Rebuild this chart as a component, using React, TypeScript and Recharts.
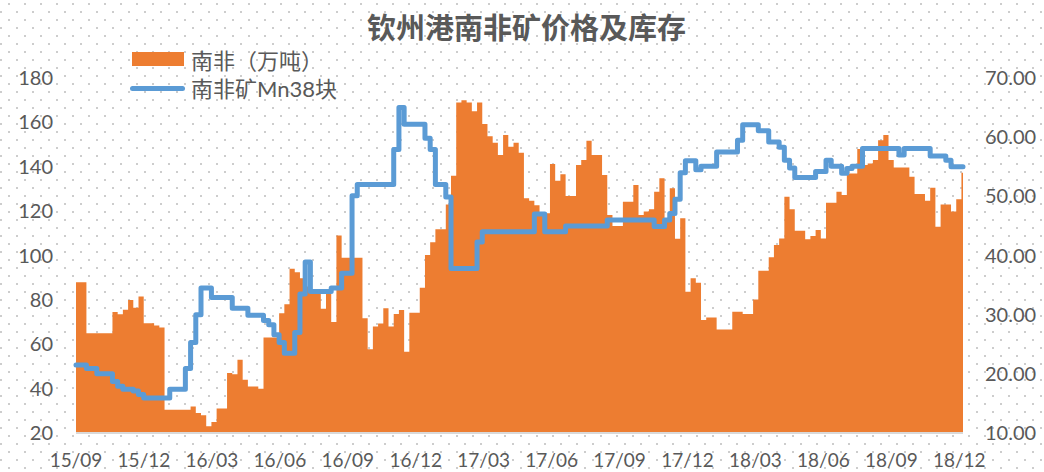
import { Area, ComposedChart, Line, XAxis, YAxis } from 'recharts';

const TITLE = '钦州港南非矿价格及库存';
const STOCK_NAME = '南非（万吨）';
const PRICE_NAME = '南非矿Mn38块';

const monthLabels = [
  '15/09', '15/12', '16/03', '16/06', '16/09', '16/12', '17/03',
  '17/06', '17/09', '17/12', '18/03', '18/06', '18/09', '18/12',
];

// weeks counted from 2015-09-01; each value holds until the next entry
const stockWeeks = [
  0, 2, 7, 8, 9, 10, 11, 12, 13, 15, 16, 17, 22, 23, 24, 25, 26, 27, 29, 30,
  31, 32, 33, 35, 36, 39, 40, 41, 42, 43, 44, 45, 47, 48, 49, 50, 51, 55, 56, 57,
  58, 59, 60, 61, 62, 63, 64, 66, 67, 68, 69, 71, 72, 73, 74, 75, 76, 77, 78, 79,
  80, 81, 82, 83, 84, 85, 86, 87, 88, 89, 91, 92, 93, 94, 96, 97, 98, 99, 101, 102,
  103, 105, 107, 108, 109, 110, 111, 112, 113, 114, 115, 116, 117, 118, 119, 120, 121, 123, 126, 128,
  130, 131, 133, 134, 135, 136, 137, 138, 140, 141, 142, 143, 144, 146, 147, 148, 150, 151, 152, 153,
  154, 155, 156, 157, 160, 161, 163, 164, 165, 166, 168, 169, 170, 170.3,
];
const stockValues = [
  88, 65, 74.5, 73.5, 75.5, 80, 76.5, 81.5, 69.5, 68.5, 67.5, 30.5, 32, 29, 28, 23, 25, 31, 47, 46.5,
  53, 44, 41, 40, 63, 74, 78, 94, 92.5, 89.7, 86, 83, 76, 83, 70, 109, 99, 71.7, 57.7, 68,
  69.4, 76.2, 68, 73.6, 75.4, 56.6, 74.2, 85.5, 100.2, 106, 111.8, 123, 136, 169, 170, 169, 165, 169, 159.3, 153.8,
  150.8, 145.3, 154.3, 149, 150.8, 146.3, 125.8, 124.7, 122.7, 119, 141.2, 133.7, 136.6, 126.8, 140.8, 143, 151.7, 145.3, 136.3, 118.3,
  113.3, 124.2, 131.8, 118.3, 119.8, 120.8, 128.7, 134.8, 116, 130.3, 107.5, 116.8, 83.7, 89.7, 87.7, 70.9, 72.1, 66.7, 74.7, 73.6,
  80.2, 93.1, 99.2, 104.7, 107.7, 126.5, 120.8, 111.2, 107.3, 108.8, 111.5, 107.7, 123.8, 128.7, 127.3, 137, 148, 140.8, 141.5, 143,
  152, 154.3, 143, 139.7, 135.5, 127.7, 124.7, 130.5, 113, 123, 119.8, 125.3, 137.3, 137.3,
];

const priceWeeks = [
  0, 2, 4, 7, 8, 9, 11, 12, 13, 18, 21, 22, 23, 24, 26, 30, 33, 36, 37, 38,
  39, 40, 42, 43, 44, 45, 49, 51, 53, 54, 61, 62, 63, 67, 68, 69, 71, 72, 77, 78,
  88, 90, 94, 102, 111, 113, 114, 115, 116, 117, 119, 120, 123, 127, 128, 131, 133, 135, 136, 137,
  138, 142, 144, 145, 147, 148, 149, 151, 158, 159, 164, 167, 168, 170.3,
];
const priceValues = [
  21.5, 20.9, 20.0, 18.7, 17.9, 17.4, 17.1, 16.5, 15.9, 17.4, 20.9, 25.3, 30.0, 34.5, 32.9, 31.1, 29.9, 29.0, 28.3, 26.6,
  25.3, 23.5, 27.0, 33.5, 38.9, 33.9, 34.5, 37.0, 50.1, 52.0, 57.9, 65.0, 62.2, 59.8, 57.9, 52.0, 49.9, 37.8, 42.3, 44.0,
  47.0, 44.0, 45.0, 46.0, 44.9, 46.0, 47.1, 49.5, 54.0, 56.0, 54.5, 55.1, 57.5, 59.5, 62.1, 61.1, 59.2, 58.3, 56.1, 54.8,
  53.2, 54.2, 56.1, 55.1, 53.9, 54.7, 55.1, 58.1, 57.0, 58.1, 56.8, 56.1, 55.0, 55.0,
];

const leftTicks = [20, 40, 60, 80, 100, 120, 140, 160, 180];
const rightTicks = [10, 20, 30, 40, 50, 60, 70];

const WEEKS_PER_QUARTER = (52.18 / 12) * 3;
const xTicks = monthLabels.map((_, i) => i * WEEKS_PER_QUARTER);

const stockData = stockWeeks.map((week, i) => ({ week, stock: stockValues[i] }));
const priceData = priceWeeks.map((week, i) => ({ week, price: priceValues[i] }));

const TEXT = '#595959';
const ORANGE = '#ed7d31';
const BLUE = '#5b9bd5';
const FONT = "Lato, 'Noto Sans CJK SC', sans-serif";
const CJK = "'Noto Sans CJK SC', sans-serif";

const dots =
  "url(\"data:image/svg+xml;utf8,<svg xmlns='http://www.w3.org/2000/svg' width='16' height='16'>" +
  "<rect x='8' y='3' width='2' height='2' fill='%23cdcdcd'/><rect x='0' y='11' width='2' height='2' fill='%23cdcdcd'/></svg>\")";

export default function App() {
  return (
    <div
      style={{
        position: 'absolute',
        left: 0,
        top: 0,
        width: 1044,
        height: 472,
        backgroundColor: '#fff',
        backgroundImage: dots,
        fontFamily: FONT,
        color: TEXT,
      }}
    >
      <div
        style={{
          position: 'absolute',
          left: 367,
          top: 10,
          fontSize: 29,
          lineHeight: '32px',
          fontWeight: 'bold',
          whiteSpace: 'nowrap',
          fontFamily: CJK,
        }}
      >
        {TITLE}
      </div>

      <div style={{ position: 'absolute', left: 128, top: 45, fontSize: 22, lineHeight: '29px' }}>
        <div style={{ display: 'flex', alignItems: 'center' }}>
          <svg width={60} height={29}>
            <rect x={4} y={7} width={52} height={14} fill={ORANGE} />
          </svg>
          <span style={{ marginLeft: 3, fontFamily: CJK, whiteSpace: 'nowrap' }}>{STOCK_NAME}</span>
        </div>
        <div style={{ display: 'flex', alignItems: 'center' }}>
          <svg width={60} height={29}>
            <line x1={4.5} y1={14.5} x2={54.5} y2={14.5} stroke={BLUE} strokeWidth={5} strokeLinecap="round" />
          </svg>
          <span style={{ marginLeft: 3 }}>{PRICE_NAME}</span>
        </div>
      </div>

      <ComposedChart width={1044} height={472} margin={{ top: 78, right: 0, bottom: 0, left: 0 }}>
        <XAxis
          type="number"
          dataKey="week"
          domain={[0, 170.3]}
          ticks={xTicks}
          interval={0}
          tickFormatter={(v: number) => monthLabels[Math.round(v / WEEKS_PER_QUARTER)]}
          tick={{ fill: TEXT, fontSize: 19 }}
          tickLine={false}
          tickMargin={15}
          axisLine={{ stroke: '#d9d9d9', strokeWidth: 2 }}
          height={39}
        />
        <YAxis
          yAxisId="left"
          domain={[20, 180]}
          ticks={leftTicks}
          interval={0}
          tick={{ fill: TEXT, fontSize: 20 }}
          tickLine={false}
          axisLine={false}
          tickMargin={17}
          width={76}
        />
        <YAxis
          yAxisId="right"
          orientation="right"
          domain={[10, 70]}
          ticks={rightTicks}
          interval={0}
          tickFormatter={(v: number) => v.toFixed(2)}
          tick={{ fill: TEXT, fontSize: 20 }}
          tickLine={false}
          axisLine={false}
          tickMargin={16}
          width={81}
        />
        <Area
          yAxisId="left"
          data={stockData}
          dataKey="stock"
          name={STOCK_NAME}
          type="stepAfter"
          fill={ORANGE}
          fillOpacity={1}
          stroke="none"
          isAnimationActive={false}
        />
        <Line
          yAxisId="right"
          data={priceData}
          dataKey="price"
          name={PRICE_NAME}
          type="stepAfter"
          stroke={BLUE}
          strokeWidth={5}
          strokeLinejoin="round"
          strokeLinecap="round"
          dot={false}
          isAnimationActive={false}
        />
      </ComposedChart>
    </div>
  );
}
